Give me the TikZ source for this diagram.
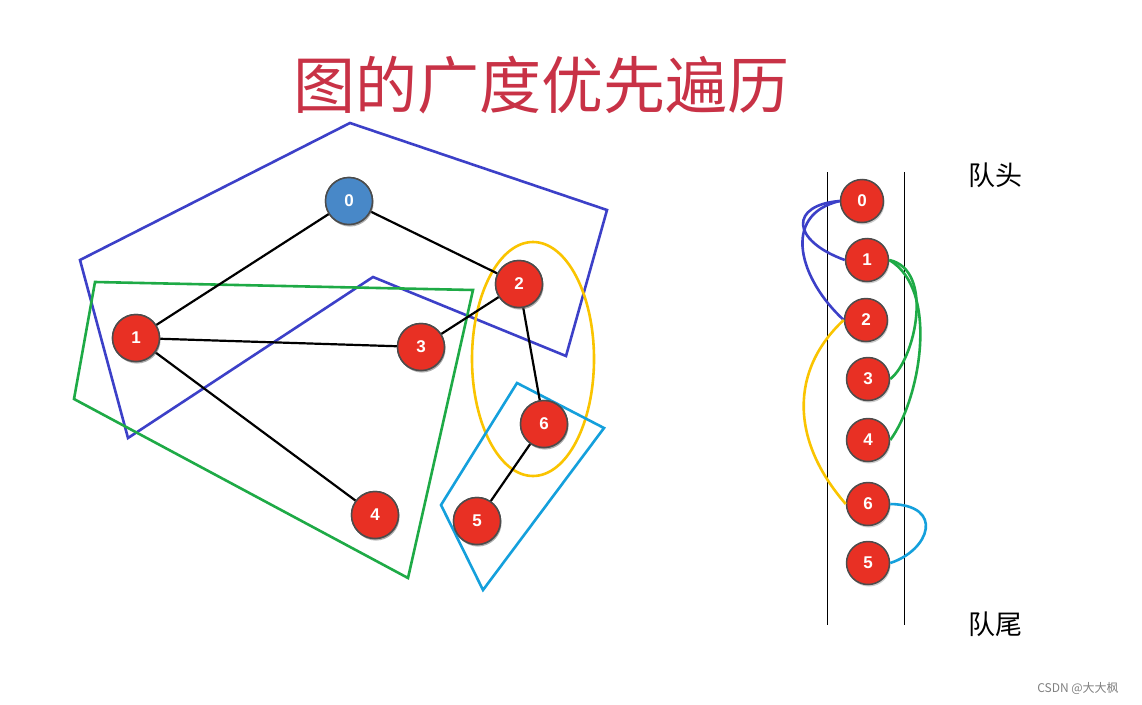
\documentclass[tikz,border=0pt]{standalone}
\usepackage{fontspec}
\setmainfont{Liberation Sans}
\newfontfamily\cjk{Noto Sans CJK SC}
\usetikzlibrary{shadows}
\definecolor{nred}{RGB}{232,48,36}
\definecolor{nblue}{RGB}{72,136,200}
\definecolor{pblue}{RGB}{60,64,200}
\definecolor{pgreen}{RGB}{30,170,70}
\definecolor{pyellow}{RGB}{250,196,0}
\definecolor{pcyan}{RGB}{20,160,220}
\definecolor{ttl}{RGB}{200,50,70}
\begin{document}
\begin{tikzpicture}[x=1pt,y=-1pt,
  vert/.style={circle,draw=black!70,line width=1.5pt,fill=nred,minimum size=47pt,inner sep=0pt,text=white,font=\bfseries\fontsize{17}{17}\selectfont,drop shadow={shadow xshift=1pt,shadow yshift=-2pt,opacity=0.4}},
  edge/.style={line width=2.2pt,black},
  hull/.style={line width=2.6pt}]
\useasboundingbox (0,0) rectangle (1142,704);
\fill[white] (0,0) rectangle (1142,704);
\node[text=ttl,font=\cjk\fontsize{62}{62}\selectfont] (title) at (541,85) {图的广度优先遍历};
% hulls
\draw[hull,pblue] (350,123) -- (607,210) -- (566,356) -- (373,277) -- (128,438) -- (80,260) -- cycle;
\draw[hull,pgreen] (95,282) -- (473,290) -- (408,578) -- (74,399) -- cycle;
\draw[hull,pyellow] (533,359) ellipse [x radius=61,y radius=117];
\draw[hull,pcyan] (517,383) -- (604,428) -- (483,590) -- (441,505) -- cycle;
% graph
\node[vert] (g0) at (349,201) {}; 
\node[vert] (g1) at (136,338) {};
\node[vert] (g2) at (519,284) {};
\node[vert] (g3) at (421,347) {};
\node[vert] (g4) at (375,515) {};
\node[vert] (g5) at (477,521) {};
\node[vert] (g6) at (544,424) {};
\begin{scope}[on background layer/.style={}]
\end{scope}
\draw[edge] (g0) -- (g1); \draw[edge] (g0) -- (g2); \draw[edge] (g1) -- (g3);
\draw[edge] (g1) -- (g4); \draw[edge] (g2) -- (g3); \draw[edge] (g2) -- (g6);
\draw[edge] (g6) -- (g5);
\node[vert,fill=nblue] at (349,201) {0};
\node[vert] at (136,338) {1};
\node[vert] at (519,284) {2};
\node[vert] at (421,347) {3};
\node[vert] at (375,515) {4};
\node[vert] at (477,521) {5};
\node[vert] at (544,424) {6};
% queue
\draw[line width=0.7pt] (827,172) coordinate (la) -- (827,625) coordinate (lb);
\draw[line width=0.7pt] (904,172) coordinate (ra) -- (904,625) coordinate (rb);
\node[vert,minimum size=43pt] (q0) at (862,201) {0};
\node[vert,minimum size=43pt] (q1) at (867,260) {1};
\node[vert,minimum size=43pt] (q2) at (866,320) {2};
\node[vert,minimum size=43pt] (q3) at (868,379) {3};
\node[vert,minimum size=43pt] (q4) at (868,440) {4};
\node[vert,minimum size=43pt] (q6) at (868,504) {6};
\node[vert,minimum size=43pt] (q5) at (868,563) {5};
\draw[hull,pblue] (q0.west) .. controls (790,205) and (790,240) .. (q1.west);
\draw[hull,pblue] (q0.west) .. controls (780,215) and (800,280) .. (q2.west);
\draw[hull,pgreen] (q1.east) .. controls (935,270) and (915,360) .. (q3.east);
\draw[hull,pgreen] (q1.east) .. controls (940,290) and (920,400) .. (q4.east);
\draw[hull,pyellow] (q2.west) .. controls (790,370) and (790,440) .. (q6.west);
\draw[hull,pcyan] (q6.east) .. controls (945,505) and (930,550) .. (q5.east);
\node[font=\cjk\fontsize{27}{27}\selectfont] (head) at (995,175) {队头};
\node[font=\cjk\fontsize{27}{27}\selectfont] (tail) at (995,624) {队尾};
\node[text=black!50,font=\cjk\fontsize{12}{12}\selectfont] (wm) at (1078,688) {CSDN @大大枫};
\end{tikzpicture}
\end{document}
